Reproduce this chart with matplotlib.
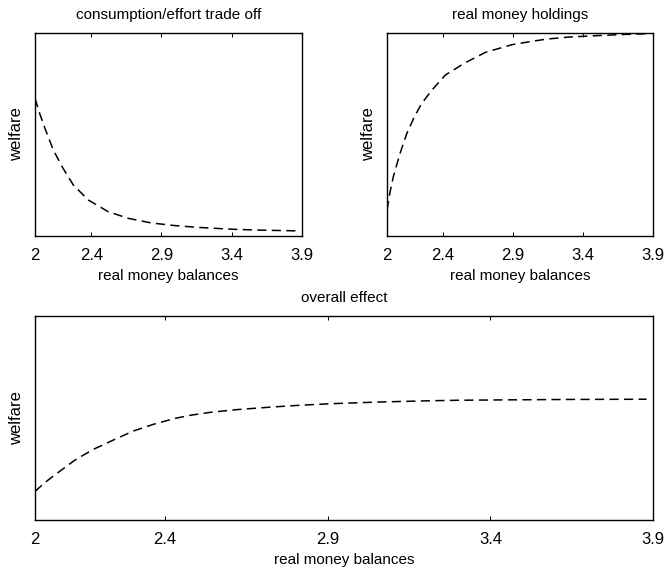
import matplotlib
matplotlib.use("Agg")
import matplotlib.pyplot as plt

plt.rcParams["font.family"] = ["Liberation Sans", "DejaVu Sans"]
plt.rcParams["font.size"] = 11

# tick labels shared by all panels
ticks = [2, 2.4, 2.9, 3.4, 3.9]
tick_labels = ["2", "2.4", "2.9", "3.4", "3.9"]

# consumption/effort trade off (welfare, relative scale)
x_trade = [2.0, 2.035, 2.071, 2.13, 2.2, 2.273, 2.38, 2.52, 2.664, 2.83, 3.0,
           3.17, 3.41, 3.6, 3.88]
y_trade = [0.678, 0.60, 0.53, 0.424, 0.333, 0.251, 0.177, 0.12, 0.087, 0.064, 0.051,
           0.042, 0.033, 0.029, 0.025]

# real money holdings
x_hold = [2.0, 2.02, 2.045, 2.093, 2.142, 2.196, 2.249, 2.321, 2.417, 2.56, 2.704,
          2.896, 3.0, 3.14, 3.3, 3.50, 3.7, 3.88]
y_hold = [0.128, 0.21, 0.292, 0.407, 0.506, 0.588, 0.654, 0.719, 0.793, 0.854, 0.905,
          0.943, 0.955, 0.97, 0.98, 0.987, 0.993, 0.997]

# overall effect
x_all = [2.0, 2.03, 2.061, 2.123, 2.179, 2.241, 2.302, 2.364, 2.43, 2.48, 2.54, 2.62,
         2.73, 2.82, 2.91, 3.05, 3.20, 3.3, 3.46, 3.65, 3.88]
y_all = [0.14, 0.183, 0.221, 0.294, 0.346, 0.392, 0.436, 0.469, 0.498, 0.514, 0.528,
         0.541, 0.554, 0.563, 0.57, 0.578, 0.584, 0.587, 0.589, 0.591, 0.592]

W, H = 665, 571
fig = plt.figure(figsize=(W / 100, H / 100), dpi=100)


def make_ax(left, top, right, bottom):
    return fig.add_axes([left / W, 1 - bottom / H, (right - left) / W, (bottom - top) / H])


ax1 = make_ax(35, 33, 302, 236)
ax2 = make_ax(387, 33, 653, 236)
ax3 = make_ax(35, 316, 653, 520)

panels = [
    (ax1, x_trade, y_trade, "consumption/effort trade off"),
    (ax2, x_hold, y_hold, "real money holdings"),
    (ax3, x_all, y_all, "overall effect"),
]

for ax, x, y, title in panels:
    ax.plot(x, y, color="black", linestyle=(0, (6, 3.5)), linewidth=1.1)
    ax.set_xlim(2, 3.9)
    ax.set_ylim(0, 1)
    ax.set_xticks(ticks)
    ax.set_xticklabels(tick_labels)
    ax.set_yticks([])
    ax.tick_params(axis="x", direction="in", top=True, length=3, width=0.7, pad=9,
                   labelsize=12)
    for s in ax.spines.values():
        s.set_linewidth(1.0)
    ax.set_title(title, fontsize=11, pad=10)
    ax.set_xlabel("real money balances", fontsize=11, labelpad=4)
    ax.set_ylabel("welfare", fontsize=12, labelpad=8)

fig.savefig("out.png", dpi=100)
